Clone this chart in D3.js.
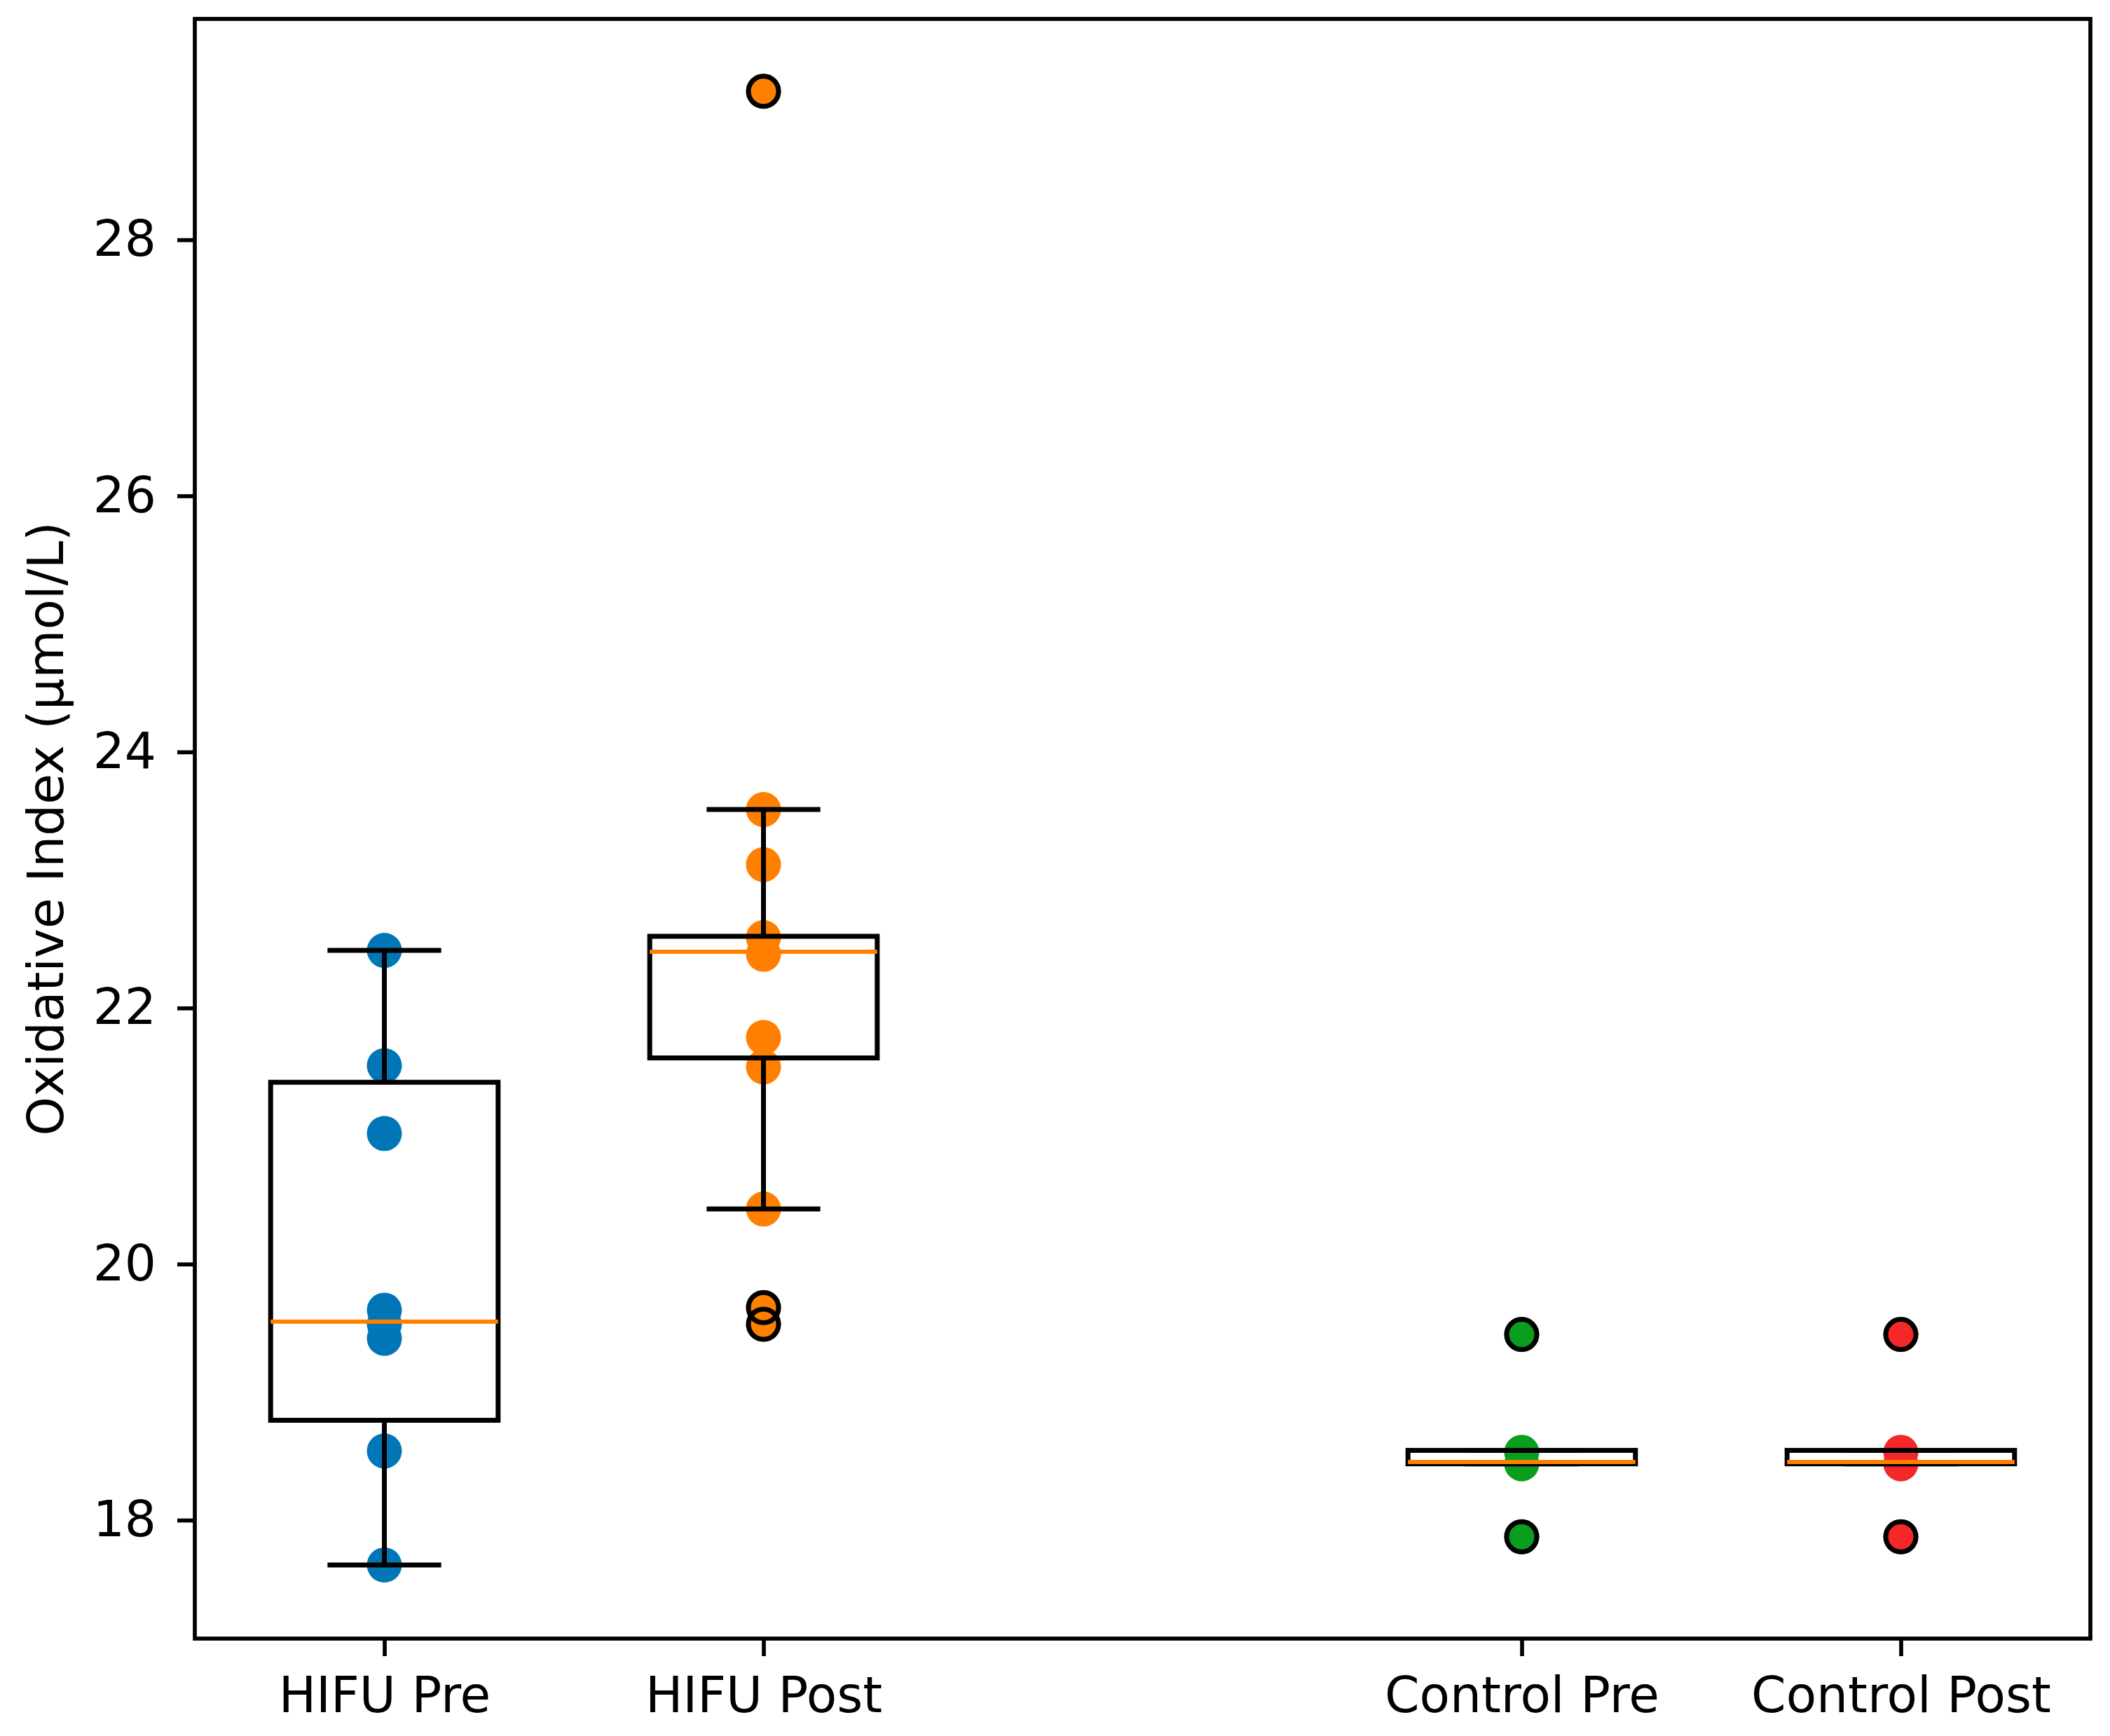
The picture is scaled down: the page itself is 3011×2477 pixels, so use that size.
<!DOCTYPE html>
<html>
<head>
<meta charset="utf-8">
<script src="https://cdn.jsdelivr.net/npm/d3@7"></script>
<style>
  body { margin: 0; background: #fff; }
  svg { display: block; }
  text { font-family: "DejaVu Sans", sans-serif; fill: #000; }
</style>
</head>
<body>
<svg></svg>
<script>
// groups and their x positions (a gap is left at position 3)
const groups = ["HIFU Pre", "HIFU Post", "Control Pre", "Control Post"];
const positions = [1, 2, 4, 5];
const colors = ["#0076b6", "#ff8000", "#0a9e1e", "#f42828"];

const hifuPre = [17.65, 18.54, 19.42, 19.53, 19.64, 21.02, 21.55, 22.45];
const hifuPost = [19.53, 19.66, 20.43, 21.54, 21.77, 22.42, 22.55, 23.12, 23.55, 29.16];
const controlPre = [17.87, 18.44, 18.53, 19.45];
const controlPost = [17.87, 18.44, 18.53, 19.45];
const samples = [hifuPre, hifuPost, controlPre, controlPost];

// box statistics
const q1 = [18.78, 21.61, 18.44, 18.44];
const medians = [19.55, 22.44, 18.455, 18.455];
const q3 = [21.42, 22.56, 18.545, 18.545];
const whiskLo = [17.65, 20.43, 18.44, 18.44];
const whiskHi = [22.45, 23.55, 18.545, 18.545];

const yTicks = [18, 20, 22, 24, 26, 28];

const width = 3011,
    height = 2477;
const plotLeft = 278, plotRight = 2983, plotTop = 27, plotBottom = 2338;

const svg = d3.select("svg")
    .attr("width", width)
    .attr("height", height);

const x = d3.scaleLinear().domain([0.5, 5.5]).range([plotLeft, plotRight]);
const y = d3.scaleLinear().domain([17.075, 29.725]).range([plotBottom, plotTop]);

const boxW = 0.6, capW = 0.3;

const stats = groups.map(function(g, i) {
    return {
        name: g, pos: positions[i], color: colors[i], values: samples[i],
        q1: q1[i], med: medians[i], q3: q3[i], lo: whiskLo[i], hi: whiskHi[i]
    };
});

const plot = svg.append("g");

// scatter dots first
stats.forEach(function(s) {
    plot.selectAll(null)
        .data(s.values)
        .enter().append("circle")
        .attr("cx", x(s.pos))
        .attr("cy", function(d) { return y(d); })
        .attr("r", 25)
        .attr("fill", s.color);
});

const box = plot.selectAll(".box")
    .data(stats)
    .enter().append("g")
    .attr("class", "box");

// whiskers
box.append("line")
    .attr("x1", function(d) { return x(d.pos); })
    .attr("x2", function(d) { return x(d.pos); })
    .attr("y1", function(d) { return y(d.q3); })
    .attr("y2", function(d) { return y(d.hi); })
    .attr("stroke", "#000").attr("stroke-width", 7);
box.append("line")
    .attr("x1", function(d) { return x(d.pos); })
    .attr("x2", function(d) { return x(d.pos); })
    .attr("y1", function(d) { return y(d.q1); })
    .attr("y2", function(d) { return y(d.lo); })
    .attr("stroke", "#000").attr("stroke-width", 7);

// caps
["lo", "hi"].forEach(function(k) {
    box.append("line")
        .attr("x1", function(d) { return x(d.pos - capW / 2); })
        .attr("x2", function(d) { return x(d.pos + capW / 2); })
        .attr("y1", function(d) { return y(d[k]); })
        .attr("y2", function(d) { return y(d[k]); })
        .attr("stroke", "#000").attr("stroke-width", 7);
});

// boxes
box.append("rect")
    .attr("x", function(d) { return x(d.pos - boxW / 2); })
    .attr("width", x(1 + boxW) - x(1))
    .attr("y", function(d) { return y(d.q3); })
    .attr("height", function(d) { return y(d.q1) - y(d.q3); })
    .attr("fill", "none")
    .attr("stroke", "#000")
    .attr("stroke-width", 7);

// medians
box.append("line")
    .attr("x1", function(d) { return x(d.pos - boxW / 2); })
    .attr("x2", function(d) { return x(d.pos + boxW / 2); })
    .attr("y1", function(d) { return y(d.med); })
    .attr("y2", function(d) { return y(d.med); })
    .attr("stroke", "#ff8000").attr("stroke-width", 6);

// fliers: points beyond the whiskers get a black ring
stats.forEach(function(s) {
    plot.selectAll(null)
        .data(s.values.filter(function(v) { return v < s.lo - 0.01 || v > s.hi + 0.01; }))
        .enter().append("circle")
        .attr("cx", x(s.pos))
        .attr("cy", function(d) { return y(d); })
        .attr("r", 21.5)
        .attr("fill", "none")
        .attr("stroke", "#000")
        .attr("stroke-width", 7);
});

// axes
const xAxis = d3.axisBottom(x)
    .tickValues(positions)
    .tickFormat(function(d, i) { return groups[i]; })
    .tickSize(25).tickSizeOuter(0).tickPadding(30);

const yAxis = d3.axisLeft(y)
    .tickValues(yTicks)
    .tickFormat(d3.format("d"))
    .tickSize(25).tickSizeOuter(0).tickPadding(30);

const gx = svg.append("g")
    .attr("transform", "translate(0," + plotBottom + ")")
    .call(xAxis);
const gy = svg.append("g")
    .attr("transform", "translate(" + plotLeft + ",0)")
    .call(yAxis);

[gx, gy].forEach(function(g) {
    g.select(".domain").remove();
    g.selectAll(".tick line").attr("stroke", "#000").attr("stroke-width", 5.7);
    g.selectAll(".tick text")
        .style("font-family", "'DejaVu Sans', sans-serif")
        .style("font-size", "71px")
        .attr("fill", "#000");
});

// frame
svg.append("rect")
    .attr("x", plotLeft).attr("y", plotTop)
    .attr("width", plotRight - plotLeft).attr("height", plotBottom - plotTop)
    .attr("fill", "none")
    .attr("stroke", "#000")
    .attr("stroke-width", 5.7);

svg.append("text")
    .attr("transform", "translate(90," + ((plotTop + plotBottom) / 2) + ") rotate(-90)")
    .attr("text-anchor", "middle")
    .style("font-size", "71px")
    .text("Oxidative Index (µmol/L)");
</script>
</body>
</html>
